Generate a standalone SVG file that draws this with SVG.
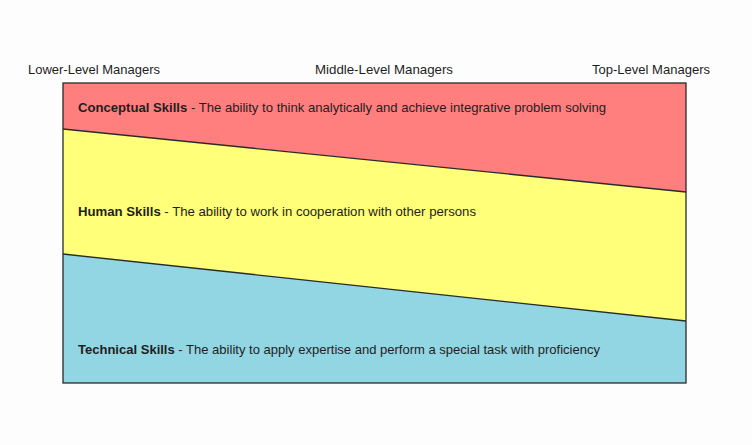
<svg xmlns="http://www.w3.org/2000/svg" width="752" height="445" viewBox="0 0 752 445">
<style>
text{font-family:"Liberation Sans",Arial,sans-serif;font-size:13px;fill:#1e1e1e}
.b{font-weight:bold}
.edge{stroke:#2a2a2a;stroke-width:1.3;fill:none}
</style>
<rect width="752" height="445" fill="#fdfdfd"/>
<g id="headers">
<text x="28" y="74" textLength="132" lengthAdjust="spacingAndGlyphs">Lower-Level Managers</text>
<text x="315" y="74" textLength="138" lengthAdjust="spacingAndGlyphs">Middle-Level Managers</text>
<text x="592" y="74" textLength="118" lengthAdjust="spacingAndGlyphs">Top-Level Managers</text>
</g>
<g id="conceptual">
<polygon points="63,83 686,83 686,192 63,129" fill="#FF7F7F"/>
<text x="78" y="112" textLength="528" lengthAdjust="spacingAndGlyphs"><tspan class="b">Conceptual Skills</tspan> - The ability to think analytically and achieve integrative problem solving</text>
</g>
<g id="human">
<polygon points="63,129 686,192 686,321 63,254" fill="#FFFF79"/>
<text x="78" y="216" textLength="398" lengthAdjust="spacingAndGlyphs"><tspan class="b">Human Skills</tspan> - The ability to work in cooperation with other persons</text>
</g>
<g id="technical">
<polygon points="63,254 686,321 686,383 63,383" fill="#92D6E3"/>
<text x="78" y="354" textLength="522" lengthAdjust="spacingAndGlyphs"><tspan class="b">Technical Skills</tspan> - The ability to apply expertise and perform a special task with proficiency</text>
</g>
<g id="connectors">
<line class="edge" x1="63" y1="129" x2="686" y2="192"/>
<line class="edge" x1="63" y1="254" x2="686" y2="321"/>
<rect class="edge" x="63" y="83" width="623" height="300"/>
</g>
</svg>
